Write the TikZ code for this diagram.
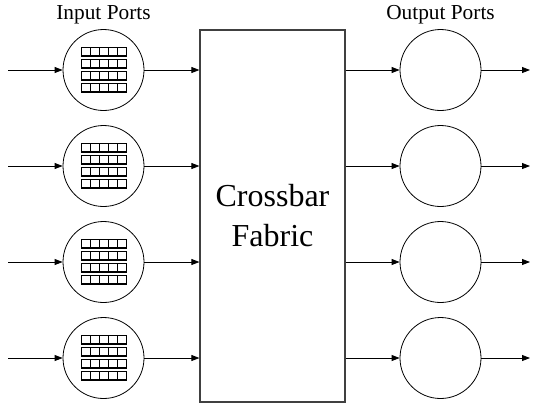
\documentclass[tikz,border=0pt]{standalone}
\usepackage{fontspec}
\setmainfont{Liberation Serif}
\usetikzlibrary{arrows.meta, positioning, calc}
\tikzset{
    port/.style={circle, draw=black, line width=0.6pt, minimum size=60.75pt, inner sep=0pt},
    fabric/.style={rectangle, draw=black!75, line width=0.9pt, minimum width=108.75pt, minimum height=279pt, align=center, font=\fontsize{24}{30}\selectfont},
    title/.style={font=\fontsize{16}{18}\selectfont, inner sep=0pt},
    arrow/.style={line width=0.6pt, -{Triangle[length=6pt, width=4.5pt]}}
}
% queue of packets inside an input port: four rows of five cells
\newcommand{\packetqueue}[1]{%
    \foreach \r in {-23,-11,1,13} {
        \draw[line width=0.5pt] ($(#1)+(-22.5,\r)$) -- ++(45.5,0);
        \draw[line width=1pt] ($(#1)+(-22.5,\r+9)$) -- ++(45.5,0);
        \foreach \c in {0,...,5}
            \draw[line width=0.5pt] ($(#1)+(-22.5+9.1*\c,\r)$) -- ++(0,9);
    }
}

\begin{document}
\begin{tikzpicture}[x=0.75pt, y=-0.75pt]
    \useasboundingbox (0,0) rectangle (535,405);

    \node (fab) [fabric] at (272.5,216) {Crossbar\\Fabric};
    \node (intitle) [title] at (103.5,15) {Input Ports};
    \node (outtitle) [title] at (440.5,15) {Output Ports};

    \foreach \i/\y in {1/70, 2/166, 3/262, 4/358} {
        \node (in\i) [port] at (103.5,\y) {};
        \node (out\i) [port] at (440.5,\y) {};
        \coordinate (src\i) at (8,\y);
        \coordinate (dst\i) at (530,\y);
        \packetqueue{in\i}

        \draw [arrow] (src\i) -- (in\i.west);
        \draw [arrow] (in\i.east) -- (in\i.east -| fab.west);
        \draw [arrow] (out\i.west -| fab.east) -- (out\i.west);
        \draw [arrow] (out\i.east) -- (dst\i);
    }
\end{tikzpicture}
\end{document}
